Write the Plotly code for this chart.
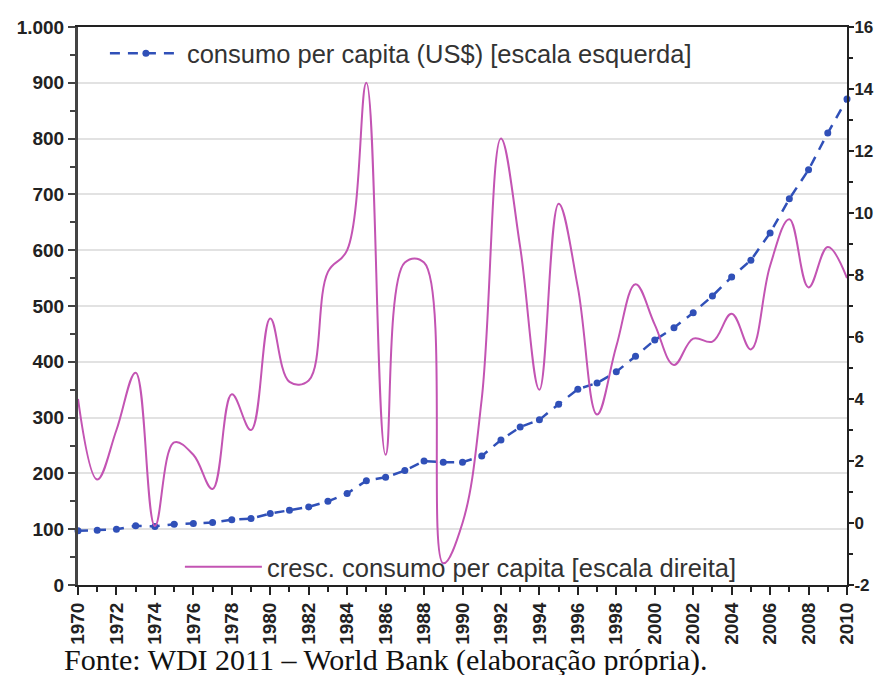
import plotly.graph_objects as go

# =============================
# Dados
# =============================
anos = list(range(1970, 2011))

# consumo per capita (US$) - escala esquerda
consumo_pc = [97, 98, 100, 106, 105, 109, 110, 112, 117, 119,
              128, 134, 140, 150, 164, 187, 193, 205, 222, 220,
              220, 231, 260, 283, 296, 324, 351, 362, 382, 410,
              439, 461, 488, 518, 552, 582, 631, 692, 744, 810,
              871]

# crescimento do consumo per capita (%) - escala direita
cresc_consumo = [4.0, 1.4, 3.0, 4.85, -0.1, 2.6, 2.2, 1.1, 4.15, 3.0,
                 6.6, 4.55, 4.6, 8.1, 8.8, 14.2, 2.2, 8.4, 8.4, -1.3,
                 0.0, 4.0, 12.4, 8.9, 4.3, 10.3, 7.6, 3.5, 5.7, 7.7,
                 6.4, 5.1, 5.95, 5.85, 6.75, 5.6, 8.3, 9.8, 7.6, 8.9,
                 7.9]

ticks_esq = list(range(0, 1001, 100))
labels_esq = ["0", "100", "200", "300", "400", "500", "600", "700", "800", "900", "1.000"]
ticks_dir = list(range(-2, 17, 2))
labels_dir = ["-2", "0", "2", "4", "6", "8", "10", "12", "14", "16"]
ticks_x = list(range(1970, 2011, 2))

nome_consumo = "consumo per capita (US$) [escala esquerda]"
nome_cresc = "cresc. consumo per capita [escala direita]"
fonte = "Fonte: WDI 2011 – World Bank (elaboração própria)."

# =============================
# Figura (a página tem margem de 8px, por isso 874x667)
# =============================
fig = go.Figure()

fig.add_trace(go.Scatter(
    x=anos, y=cresc_consumo, name=nome_cresc, yaxis="y2",
    mode="lines", line=dict(color="#c354b3", width=2, shape="spline", smoothing=1.1),
    legend="legend2", cliponaxis=False))

fig.add_trace(go.Scatter(
    x=anos, y=consumo_pc, name=nome_consumo,
    mode="lines+markers",
    line=dict(color="#3050b8", width=2.5, dash="10px,8px"),
    marker=dict(color="#3050b8", size=7),
    legend="legend", cliponaxis=False))

fonte_eixo = dict(family="Liberation Sans, Arial", size=19, color="#222", weight="bold")
fonte_legenda = dict(family="Liberation Sans, Arial", size=25.5, color="#333")

fig.update_layout(
    width=874, height=667,
    margin=dict(l=70, r=35, t=19, b=90),
    plot_bgcolor="white", paper_bgcolor="white",
    showlegend=True,
    legend=dict(x=0.035, y=0.952, xanchor="left", yanchor="middle",
                bgcolor="rgba(0,0,0,0)", itemwidth=72, font=fonte_legenda),
    legend2=dict(x=0.1325, y=0.032, xanchor="left", yanchor="middle",
                 bgcolor="rgba(0,0,0,0)", itemwidth=77, font=fonte_legenda),
    xaxis=dict(range=[1970, 2010], tickmode="array", tickvals=ticks_x,
               ticktext=[str(a) for a in ticks_x], tickangle=-90,
               ticks="outside", ticklen=8, tickwidth=2, tickcolor="#222",
               minor=dict(dtick=1, ticks="outside", ticklen=5, tickwidth=2, tickcolor="#222"),
               showline=True, linecolor="#222", linewidth=2, mirror=True,
               showgrid=False, zeroline=False, tickfont=fonte_eixo, automargin=False),
    yaxis=dict(range=[0, 1000], tickmode="array", tickvals=ticks_esq, ticktext=labels_esq,
               ticks="outside", ticklen=7, tickwidth=2, tickcolor="#444",
               minor=dict(dtick=50, ticks="outside", ticklen=5, tickwidth=2, tickcolor="#444",
                          showgrid=False),
               showline=True, linecolor="#444", linewidth=3,
               showgrid=True, gridcolor="#e2e2e2", gridwidth=2,
               zeroline=False, tickfont=fonte_eixo, automargin=False),
    yaxis2=dict(range=[-2, 16], overlaying="y", side="right",
                tickmode="array", tickvals=ticks_dir, ticktext=labels_dir,
                ticks="outside", ticklen=5, tickwidth=2, tickcolor="#222",
                minor=dict(dtick=1, ticks="outside", ticklen=4, tickwidth=2, tickcolor="#222"),
                showline=True, linecolor="#222", linewidth=2,
                showgrid=False, zeroline=False, ticklabelstandoff=-3,
                tickfont=dict(family="Liberation Sans, Arial", size=17, color="#222", weight="bold"),
                automargin=False),
)

fig.add_annotation(
    text=fonte, xref="paper", yref="paper", x=-0.021, y=-0.1,
    xanchor="left", yanchor="top", showarrow=False,
    font=dict(family="Liberation Serif, Times New Roman", size=30, color="#111"))

fig.write_html("out.html")
